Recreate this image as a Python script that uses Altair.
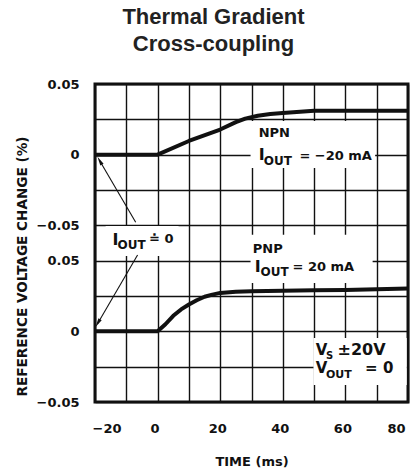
import altair as alt
import pandas as pd

# ---- curve data: TIME (ms) vs reference voltage change (%) ----
npn_time = [-20, 0, 10, 20, 25, 28, 32, 36, 40, 50, 60, 70, 80]
npn_value = [0, 0, 0.0097, 0.0178, 0.023, 0.0255, 0.0275, 0.0287, 0.0295, 0.031, 0.031, 0.031, 0.031]
pnp_time = [-20, 0, 2.5, 5, 7.5, 10, 12.5, 15, 17.5, 20, 25, 30, 40, 50, 60, 70, 80]
pnp_value = [0, 0, 0.005, 0.011, 0.0155, 0.019, 0.022, 0.0245, 0.026, 0.0272, 0.028, 0.0283, 0.0288,
             0.029, 0.0293, 0.0297, 0.0303]

# two stacked panels share one grid: each grid row = 0.025 %
panel_base = {"NPN": 7, "PNP": 2}
row_step = 0.025

x_ticks = list(range(-20, 81, 10))
y_rows = list(range(0, 10))
y_tick_labels = {9: "0.05", 7: "0", 5: "\u22120.05", 4: "0.05", 2: "0", 0: "\u22120.05"}

# ---- annotations (time in ms, row in grid units) ----
box_x1 = [29.7, 29.7, -16.6, 49.8]
box_x2 = [69.5, 68.7, 6.7, 79.6]
box_y1 = [7.95, 4.73, 4.98, 1.81]
box_y2 = [6.62, 3.37, 4.13, 0.48]

txt_text = ["NPN", "I", "OUT", "= \u221220 mA",
            "PNP", "I", "OUT", "= 20 mA",
            "I", "OUT", "\u2250 0",
            "V", "S", "\u00b120V",
            "V", "OUT", "= 0"]
txt_time = [32.3, 32.3, 33.9, 45.3,
            30.4, 31.0, 32.9, 43.1,
            -14.4, -12.8, -2.7,
            50.5, 53.8, 57.5,
            50.5, 53.8, 66.3]
txt_row = [7.50, 6.85, 6.71, 6.85,
           4.22, 3.68, 3.57, 3.71,
           4.44, 4.33, 4.50,
           1.33, 1.22, 1.33,
           0.82, 0.68, 0.82]
txt_size = [13, 16, 12, 13,
            13, 16, 12, 13,
            16, 12, 13,
            15, 10, 16,
            15, 11, 15]

arrow_t1 = [-7.0, -6.4]
arrow_r1 = [5.09, 4.16]
arrow_t2 = [-18.5, -19.1]
arrow_r2 = [6.83, 2.23]
arrow_angle = [330, 210]

# ---- tables ----
curve_df = pd.DataFrame(
    {"series": ["NPN"] * len(npn_time) + ["PNP"] * len(pnp_time),
     "time": npn_time + pnp_time,
     "value": npn_value + pnp_value})
curve_df["row"] = curve_df["series"].map(panel_base) + curve_df["value"] / row_step

box_df = pd.DataFrame({"x1": box_x1, "x2": box_x2, "y1": box_y1, "y2": box_y2})
txt_df = pd.DataFrame({"text": txt_text, "time": txt_time, "row": txt_row, "size": txt_size})
arrow_df = pd.DataFrame({"t1": arrow_t1, "r1": arrow_r1, "t2": arrow_t2, "r2": arrow_r2,
                         "angle": arrow_angle})

FONT = "DejaVu Sans"
INK = "#111111"

x_scale = alt.Scale(domain=[-20, 80], nice=False, zero=False)
y_scale = alt.Scale(domain=[0, 9], nice=False, zero=False)

y_expr = " : ".join(f"datum.value == {k} ? '{v}'" for k, v in y_tick_labels.items()) + " : ''"

x_axis = alt.Axis(values=x_ticks, labelExpr="datum.value % 20 == 0 ? datum.label : ''",
                  title="TIME (ms)", labelPadding=20, labelOffset=-3, labelOverlap=False,
                  titleY=63, titleBaseline="alphabetic")
y_axis = alt.Axis(values=y_rows, labelExpr=y_expr, labelPadding=16, labelOverlap=False,
                  title="REFERENCE VOLTAGE CHANGE (%)", titleX=-69, titleY=182, titleAngle=270,
                  titleAlign="center", titleBaseline="alphabetic", titleFontSize=13.6)

curves = alt.Chart(curve_df).mark_line(color=INK, strokeWidth=4, strokeJoin="round").encode(
    x=alt.X("time:Q", scale=x_scale, axis=x_axis),
    y=alt.Y("row:Q", scale=y_scale, axis=y_axis),
    detail="series:N", order="time:Q")

boxes = alt.Chart(box_df).mark_rect(color="white").encode(
    x=alt.X("x1:Q", scale=x_scale, axis=x_axis), x2="x2:Q",
    y=alt.Y("y1:Q", scale=y_scale, axis=y_axis), y2="y2:Q")

arrows = alt.Chart(arrow_df).mark_rule(color=INK, strokeWidth=1.1).encode(
    x=alt.X("t1:Q", scale=x_scale, axis=x_axis), x2="t2:Q",
    y=alt.Y("r1:Q", scale=y_scale, axis=y_axis), y2="r2:Q")

heads = alt.Chart(arrow_df).mark_point(shape="M0,-1L0.42,1L-0.42,1Z", filled=True, size=81,
                                       color=INK, opacity=1).encode(
    x=alt.X("t2:Q", scale=x_scale, axis=x_axis),
    y=alt.Y("r2:Q", scale=y_scale, axis=y_axis),
    angle=alt.Angle("angle:Q", scale=None))

labels = alt.Chart(txt_df).mark_text(align="left", baseline="alphabetic", font=FONT,
                                     fontWeight="bold", color=INK).encode(
    x=alt.X("time:Q", scale=x_scale, axis=x_axis),
    y=alt.Y("row:Q", scale=y_scale, axis=y_axis),
    text="text:N", size=alt.Size("size:Q", scale=None))

chart = alt.layer(curves, boxes, arrows, heads, labels).properties(
    width=313, height=318,
    title=alt.TitleParams(["Thermal Gradient", "Cross-coupling"], font="Liberation Sans",
                          fontSize=22, fontWeight="bold", color="#222222", anchor="middle",
                          dx=-38, offset=0, lineHeight=27, baseline="bottom"),
    autosize=alt.AutoSizeParams(type="none"),
    padding={"left": 87, "top": 76, "right": 3, "bottom": 70},
).configure_view(
    stroke=INK, strokeWidth=3
).configure_axis(
    grid=True, gridColor=INK, gridWidth=1.4, gridOpacity=1, ticks=False, domain=False,
    labelFont=FONT, labelFontWeight="bold", labelFontSize=13, labelColor=INK,
    titleFont=FONT, titleFontWeight="bold", titleFontSize=13, titleColor=INK,
)

chart.save("out.html", embed_options={"renderer": "svg", "actions": False})
